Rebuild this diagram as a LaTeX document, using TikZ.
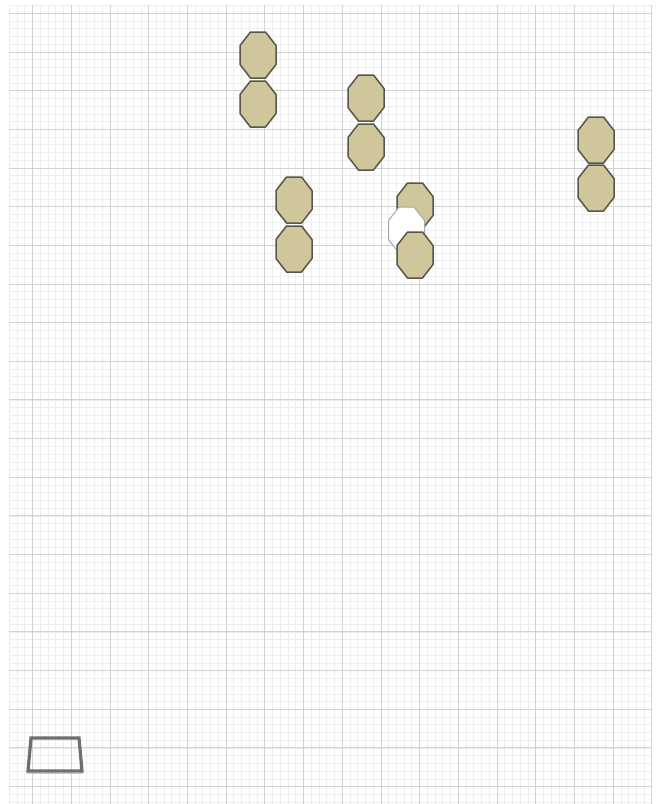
\documentclass[tikz,border=0pt]{standalone}
\definecolor{octfill}{RGB}{207,199,155}
\definecolor{octline}{RGB}{88,86,74}
\definecolor{gridminor}{RGB}{238,238,238}
\definecolor{gridmajor}{RGB}{210,210,210}
\definecolor{trapline}{RGB}{110,110,110}
\tikzset{
  minorline/.style={draw=gridminor, line width=1pt},
  majorline/.style={draw=gridmajor, line width=1pt},
  octtan/.style={fill=octfill, draw=octline, line width=1.5pt, line join=round},
  octwhite/.style={fill=white, draw=gray!70, line width=1pt, line join=round},
  oct/.pic={\path[pic actions] (-7.5,-23) -- (7.5,-23) -- (18,-9.5) -- (18,9.5) -- (7.5,23) -- (-7.5,23) -- (-18,9.5) -- (-18,-9.5) -- cycle;}
}
\begin{document}
\begin{tikzpicture}[x=1pt,y=-1pt]
\useasboundingbox (0,0) rectangle (657,804);
\fill[white] (0,0) rectangle (657,804);
% minor grid
\foreach \i in {0,...,83} {
  \pgfmathsetmacro\gx{round(8.9+7.742*\i)+0.5}
  \draw[minorline] (\gx,5) -- (\gx,804);
}
\foreach \j in {0,...,103} {
  \pgfmathsetmacro\gy{round(5.3+7.733*\j)+0.5}
  \draw[minorline] (9,\gy) -- (652,\gy);
}
% major grid
\foreach \i in {0,...,16} {
  \pgfmathsetmacro\gx{round(32.13+38.71*\i)+0.5}
  \draw[majorline] (\gx,5) -- (\gx,804);
}
\foreach \j in {0,...,20} {
  \pgfmathsetmacro\gy{round(13+38.65*\j)+0.5}
  \draw[majorline] (9,\gy) -- (652,\gy);
}
% octagons
\pic[octtan] (a1) at (258,55) {oct};
\pic[octtan] (a2) at (258,104) {oct};
\pic[octtan] (b1) at (366,98) {oct};
\pic[octtan] (b2) at (366,147) {oct};
\pic[octtan] (c1) at (294,200) {oct};
\pic[octtan] (c2) at (294,249) {oct};
\pic[octtan] (e1) at (596,140) {oct};
\pic[octtan] (e2) at (596,188) {oct};
\pic[octtan] (d1) at (415,206) {oct};
\pic[octwhite] (d2) at (406.5,230) {oct};
\pic[octtan] (d3) at (415,255) {oct};
% trapezoid
\draw[trapline, line width=3.2pt, line join=miter] (31,738) -- (79,738) -- (82,771) -- (28,771) -- cycle;
\draw[gray!45, line width=1.5pt] (27,773.5) -- (83,773.5);
\end{tikzpicture}
\end{document}
